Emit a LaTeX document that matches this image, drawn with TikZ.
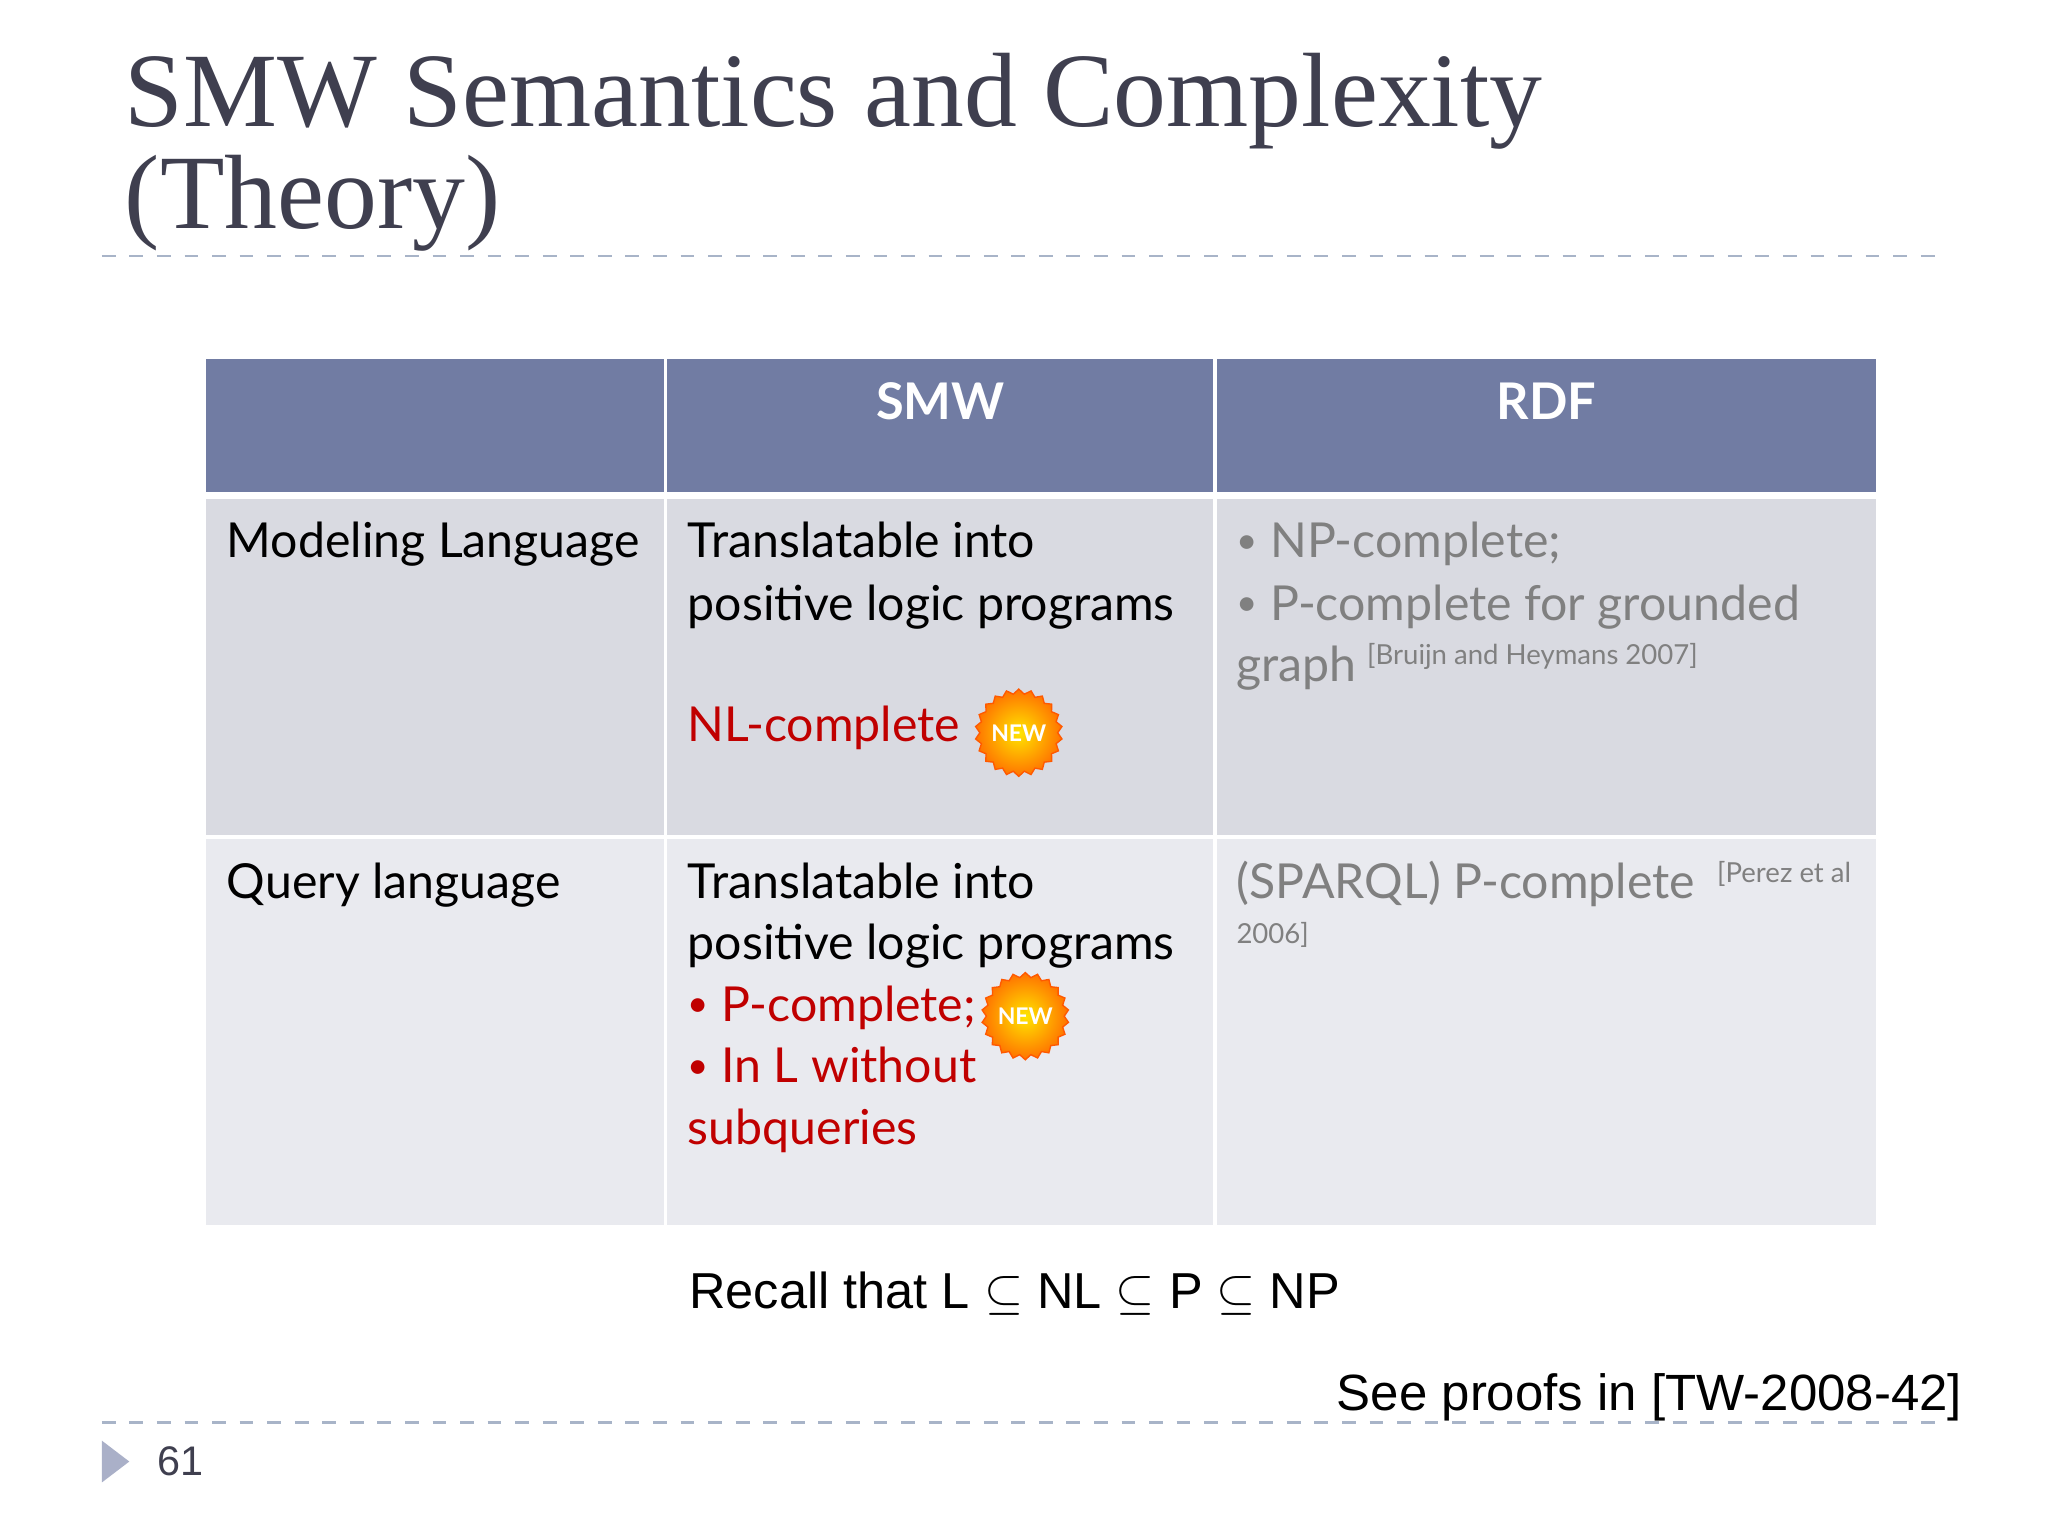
\documentclass[tikz,border=0pt]{standalone}
\usepackage{fontspec}
\usetikzlibrary{shapes.geometric}
\setmainfont{Lato}
\newfontfamily\titlefont{Liberation Serif}
\newfontfamily\arialf{Liberation Sans}
\definecolor{hdr}{HTML}{717CA3}
\definecolor{rowa}{HTML}{D9DAE1}
\definecolor{rowb}{HTML}{E9EAEF}
\definecolor{tcol}{HTML}{3F3F4F}
\definecolor{redt}{HTML}{C00000}
\definecolor{grayt}{HTML}{808080}
\definecolor{dashcol}{HTML}{A8B4C8}
\newcommand{\smbul}{{\fontsize{8}{8}\selectfont\raisebox{0.25ex}{\textbullet}}\ }
\tikzset{
 x=0.01cm,y=-0.01cm,
 body/.style={anchor=base west,inner sep=0,font=\fontsize{10.5}{12}\selectfont,align=left},
 hd/.style={anchor=base,inner sep=0,font=\fontsize{11}{13}\selectfont\bfseries,text=white},
 sup/.style={anchor=base west,inner sep=0,font=\fontsize{6}{7}\selectfont,text=grayt},
 newbadge/.style={star,star points=22,star point ratio=1.12,minimum size=13pt,inner sep=0,draw=orange!70!red,line width=0.3pt,
   inner color=yellow!80!orange,outer color=orange!90!red,
   font=\fontsize{5}{6}\selectfont\bfseries,text=white},
 sepline/.style={dashcol,dashed,line width=0.6pt},
}
\begin{document}
\begin{tikzpicture}
\useasboundingbox[fill=white] (0,0) rectangle (1568,1176);
\node[anchor=base west,inner sep=0,text=tcol,font=\titlefont\fontsize{23}{24}\selectfont] (t1) at (95,97) {SMW Semantics and Complexity};
\node[anchor=base west,inner sep=0,text=tcol,font=\titlefont\fontsize{23}{24}\selectfont] (t2) at (95,175) {(Theory)};
\draw[sepline] (78,196) -- (1490,196);
\fill[hdr] (158,275) rectangle (508,377);
\fill[hdr] (511,275) rectangle (929,377);
\fill[hdr] (932,275) rectangle (1436,377);
\fill[rowa] (158,382) rectangle (508,639);
\fill[rowa] (511,382) rectangle (929,639);
\fill[rowa] (932,382) rectangle (1436,639);
\fill[rowb] (158,642) rectangle (508,938);
\fill[rowb] (511,642) rectangle (929,938);
\fill[rowb] (932,642) rectangle (1436,938);
\node[hd] (h1) at (720,321) {SMW};
\node[hd] (h2) at (1184,321) {RDF};
\node[body] (r1) at (173,427) {Modeling Language};
\node[body] (r2) at (173,688) {Query language};
\node[body] (a1) at (526,427) {Translatable into};
\node[body] (a2) at (526,475) {positive logic programs};
\node[body,text=redt] (a3) at (526,568) {NL-complete};
\node[newbadge] (n1) at (780,561) {NEW};
\node[body,text=grayt] (b1) at (946,427) {\smbul NP-complete;};
\node[body,text=grayt] (b2) at (946,475) {\smbul P-complete for grounded};
\node[body,text=grayt] (b3) at (946,522) {graph};
\node[sup] (b4) at (1046,509) {[Bruijn and Heymans 2007]};
\node[body] (c1) at (526,688) {Translatable into};
\node[body] (c2) at (526,735) {positive logic programs};
\node[body,text=redt] (c3) at (526,782) {\smbul P-complete;};
\node[newbadge] (n2) at (785,778) {NEW};
\node[body,text=redt] (c4) at (526,829) {\smbul In L without};
\node[body,text=redt] (c5) at (526,876) {subqueries};
\node[body,text=grayt] (d1) at (946,688) {(SPARQL) P-complete};
\node[sup] (d2) at (1314,676) {[Perez et al};
\node[sup] (d3) at (946,722) {2006]};
\node[anchor=base west,inner sep=0,font=\arialf\fontsize{11}{13}\selectfont] (rc) at (527,1002) {Recall that L $\subseteq$ NL $\subseteq$ P $\subseteq$ NP};
\node[anchor=base east,inner sep=0,font=\arialf\fontsize{11.1}{13}\selectfont] (sp) at (1503,1080) {See proofs in [TW-2008-42]};
\draw[sepline] (78,1089) -- (1490,1089);
\fill[hdr!60] (78,1103) -- (99,1119) -- (78,1135) -- cycle;
\node[anchor=base west,inner sep=0,text=tcol,font=\arialf\fontsize{9}{10}\selectfont] (pg) at (120,1130) {61};
\end{tikzpicture}
\end{document}
